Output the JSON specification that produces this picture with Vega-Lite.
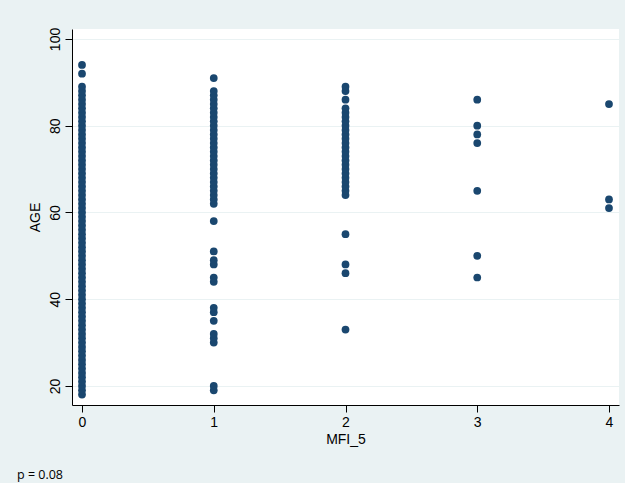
{
  "$schema": "https://vega.github.io/schema/vega-lite/v6.json",
  "width": 547,
  "height": 376,
  "autosize": {"type": "none"},
  "padding": {"left": 72, "top": 29, "right": 6, "bottom": 78},
  "background": "#EAF2F3",
  "config": {
    "view": {"fill": "white", "stroke": null},
    "font": "Liberation Sans"
  },
  "title": {
    "text": "p = 0.08",
    "orient": "bottom",
    "anchor": "start",
    "frame": "group",
    "dx": -55,
    "offset": 23,
    "font": "Open Sans",
    "fontSize": 12.5,
    "fontWeight": "normal",
    "color": "#000000",
    "baseline": "top"
  },
  "data": {"values": [
    {"MFI_5":0,"AGE":18},{"MFI_5":0,"AGE":19},{"MFI_5":0,"AGE":20},{"MFI_5":0,"AGE":21},{"MFI_5":0,"AGE":22},{"MFI_5":0,"AGE":23},{"MFI_5":0,"AGE":24},{"MFI_5":0,"AGE":25},{"MFI_5":0,"AGE":26},{"MFI_5":0,"AGE":27},
    {"MFI_5":0,"AGE":28},{"MFI_5":0,"AGE":29},{"MFI_5":0,"AGE":30},{"MFI_5":0,"AGE":31},{"MFI_5":0,"AGE":32},{"MFI_5":0,"AGE":33},{"MFI_5":0,"AGE":34},{"MFI_5":0,"AGE":35},{"MFI_5":0,"AGE":36},{"MFI_5":0,"AGE":37},
    {"MFI_5":0,"AGE":38},{"MFI_5":0,"AGE":39},{"MFI_5":0,"AGE":40},{"MFI_5":0,"AGE":41},{"MFI_5":0,"AGE":42},{"MFI_5":0,"AGE":43},{"MFI_5":0,"AGE":44},{"MFI_5":0,"AGE":45},{"MFI_5":0,"AGE":46},{"MFI_5":0,"AGE":47},
    {"MFI_5":0,"AGE":48},{"MFI_5":0,"AGE":49},{"MFI_5":0,"AGE":50},{"MFI_5":0,"AGE":51},{"MFI_5":0,"AGE":52},{"MFI_5":0,"AGE":53},{"MFI_5":0,"AGE":54},{"MFI_5":0,"AGE":55},{"MFI_5":0,"AGE":56},{"MFI_5":0,"AGE":57},
    {"MFI_5":0,"AGE":58},{"MFI_5":0,"AGE":59},{"MFI_5":0,"AGE":60},{"MFI_5":0,"AGE":61},{"MFI_5":0,"AGE":62},{"MFI_5":0,"AGE":63},{"MFI_5":0,"AGE":64},{"MFI_5":0,"AGE":65},{"MFI_5":0,"AGE":66},{"MFI_5":0,"AGE":67},
    {"MFI_5":0,"AGE":68},{"MFI_5":0,"AGE":69},{"MFI_5":0,"AGE":70},{"MFI_5":0,"AGE":71},{"MFI_5":0,"AGE":72},{"MFI_5":0,"AGE":73},{"MFI_5":0,"AGE":74},{"MFI_5":0,"AGE":75},{"MFI_5":0,"AGE":76},{"MFI_5":0,"AGE":77},
    {"MFI_5":0,"AGE":78},{"MFI_5":0,"AGE":79},{"MFI_5":0,"AGE":80},{"MFI_5":0,"AGE":81},{"MFI_5":0,"AGE":82},{"MFI_5":0,"AGE":83},{"MFI_5":0,"AGE":84},{"MFI_5":0,"AGE":85},{"MFI_5":0,"AGE":86},{"MFI_5":0,"AGE":87},
    {"MFI_5":0,"AGE":88},{"MFI_5":0,"AGE":89},{"MFI_5":0,"AGE":92},{"MFI_5":0,"AGE":94},
    {"MFI_5":1,"AGE":19},{"MFI_5":1,"AGE":20},{"MFI_5":1,"AGE":30},{"MFI_5":1,"AGE":31},{"MFI_5":1,"AGE":32},{"MFI_5":1,"AGE":35},{"MFI_5":1,"AGE":37},{"MFI_5":1,"AGE":38},{"MFI_5":1,"AGE":44},{"MFI_5":1,"AGE":45},
    {"MFI_5":1,"AGE":48},{"MFI_5":1,"AGE":49},{"MFI_5":1,"AGE":51},{"MFI_5":1,"AGE":58},
    {"MFI_5":1,"AGE":62},{"MFI_5":1,"AGE":63},{"MFI_5":1,"AGE":64},{"MFI_5":1,"AGE":65},{"MFI_5":1,"AGE":66},{"MFI_5":1,"AGE":67},{"MFI_5":1,"AGE":68},{"MFI_5":1,"AGE":69},{"MFI_5":1,"AGE":70},{"MFI_5":1,"AGE":71},
    {"MFI_5":1,"AGE":72},{"MFI_5":1,"AGE":73},{"MFI_5":1,"AGE":74},{"MFI_5":1,"AGE":75},{"MFI_5":1,"AGE":76},{"MFI_5":1,"AGE":77},{"MFI_5":1,"AGE":78},{"MFI_5":1,"AGE":79},{"MFI_5":1,"AGE":80},{"MFI_5":1,"AGE":81},
    {"MFI_5":1,"AGE":82},{"MFI_5":1,"AGE":83},{"MFI_5":1,"AGE":84},{"MFI_5":1,"AGE":85},{"MFI_5":1,"AGE":86},{"MFI_5":1,"AGE":87},{"MFI_5":1,"AGE":88},{"MFI_5":1,"AGE":91},
    {"MFI_5":2,"AGE":33},{"MFI_5":2,"AGE":46},{"MFI_5":2,"AGE":48},{"MFI_5":2,"AGE":55},
    {"MFI_5":2,"AGE":64},{"MFI_5":2,"AGE":65},{"MFI_5":2,"AGE":66},{"MFI_5":2,"AGE":67},{"MFI_5":2,"AGE":68},{"MFI_5":2,"AGE":69},{"MFI_5":2,"AGE":70},{"MFI_5":2,"AGE":71},{"MFI_5":2,"AGE":72},{"MFI_5":2,"AGE":73},
    {"MFI_5":2,"AGE":74},{"MFI_5":2,"AGE":75},{"MFI_5":2,"AGE":76},{"MFI_5":2,"AGE":77},{"MFI_5":2,"AGE":78},{"MFI_5":2,"AGE":79},{"MFI_5":2,"AGE":80},{"MFI_5":2,"AGE":81},{"MFI_5":2,"AGE":82},{"MFI_5":2,"AGE":83},
    {"MFI_5":2,"AGE":84},{"MFI_5":2,"AGE":86},{"MFI_5":2,"AGE":88},{"MFI_5":2,"AGE":89},
    {"MFI_5":3,"AGE":45},{"MFI_5":3,"AGE":50},{"MFI_5":3,"AGE":65},{"MFI_5":3,"AGE":76},{"MFI_5":3,"AGE":78},{"MFI_5":3,"AGE":80},{"MFI_5":3,"AGE":86},
    {"MFI_5":4,"AGE":61},{"MFI_5":4,"AGE":63},{"MFI_5":4,"AGE":85}
  ]},
  "mark": {"type": "circle", "size": 60, "opacity": 1, "color": "#1a476f"},
  "encoding": {
    "x": {
      "field": "MFI_5",
      "type": "quantitative",
      "scale": {"domain": [-0.076, 4.076], "nice": false, "zero": false},
      "axis": {
        "values": [0, 1, 2, 3, 4],
        "format": "d",
        "grid": false,
        "domainColor": "#000000",
        "domainWidth": 1,
        "tickColor": "#000000",
        "tickSize": 7,
        "labelFontSize": 14,
        "labelColor": "#000000",
        "labelPadding": 3,
        "title": "MFI_5",
        "titleFontSize": 14,
        "titleFontWeight": "normal",
        "titleColor": "#000000",
        "titlePadding": 3
      }
    },
    "y": {
      "field": "AGE",
      "type": "quantitative",
      "scale": {"domain": [15.6, 102.3], "nice": false, "zero": false},
      "axis": {
        "values": [20, 40, 60, 80, 100],
        "grid": true,
        "gridColor": "#EAF2F3",
        "gridWidth": 1,
        "domainColor": "#000000",
        "domainWidth": 1,
        "tickColor": "#000000",
        "tickSize": 7,
        "labelAngle": -90,
        "labelAlign": "center",
        "labelBaseline": "bottom",
        "labelFontSize": 14,
        "labelColor": "#000000",
        "labelPadding": 3,
        "title": "AGE",
        "titleFontSize": 14,
        "titleFontWeight": "normal",
        "titleColor": "#000000",
        "titlePadding": 6
      }
    }
  }
}
